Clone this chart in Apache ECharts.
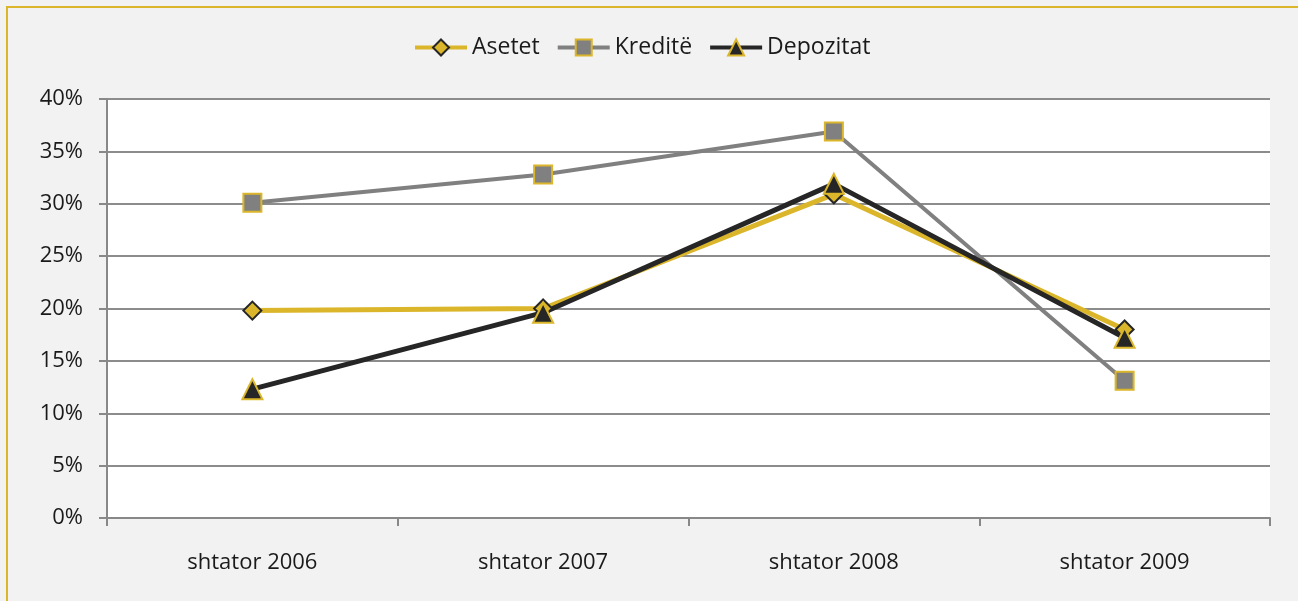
<!DOCTYPE html>
<html>
<head>
<meta http-equiv="Content-Type" content="text/html;charset=utf-8" />
<title>Asetet, Kreditë, Depozitat</title>
<script src="https://cdnjs.cloudflare.com/ajax/libs/echarts/6.0.0/echarts.min.js"></script>
<style>
  body { margin: 0; background: #f2f2f2; }
  #grafiku { position: absolute; left: 6px; top: 6px; width: 1292px; height: 595px;
    border-left: 2px solid #dbb62a; border-top: 2px solid #dbb62a; box-sizing: border-box; }
</style>
</head>
<body>
<div id="grafiku"></div>
<script>
  // te dhenat (lexuar nga grafiku)
  var kategorite = ['shtator 2006', 'shtator 2007', 'shtator 2008', 'shtator 2009'];
  var asetet = [19.8, 20.0, 30.9, 18.0];
  var kredite = [30.1, 32.8, 36.9, 13.1];
  var depozitat = [12.3, 19.6, 31.9, 17.2];

  var ari = '#dbb62a';
  var gri = '#808080';
  var zi = '#262626';
  var fonti = 'Open Sans';

  function seri(emri, vlerat, ngjyraVije, gjeresia, simboli, madhesia, mbushja, kufiri) {
    return {
      name: emri, type: 'line', data: vlerat,
      symbol: simboli, symbolSize: madhesia,
      lineStyle: { color: ngjyraVije, width: gjeresia },
      itemStyle: { color: mbushja, borderColor: kufiri, borderWidth: 2 },
      emphasis: { disabled: true }
    };
  }

  var option = {
    animation: false,
    textStyle: { fontFamily: fonti },
    legend: {
      top: 23, left: 400, itemWidth: 52, itemHeight: 20, itemGap: 16,
      lineStyle: { width: 4 },
      textStyle: { fontFamily: fonti, fontSize: 23, color: '#1a1a1a' },
      data: ['Asetet', 'Kreditë', 'Depozitat']
    },
    grid: { left: 99, right: 28, top: 91, bottom: 83, show: true, backgroundColor: '#fff', borderWidth: 0 },
    xAxis: {
      type: 'category', data: kategorite, boundaryGap: true,
      axisLine: { lineStyle: { color: '#888', width: 2 } },
      axisTick: { show: true, length: 8, lineStyle: { color: '#888', width: 2 } },
      axisLabel: { margin: 34, fontSize: 22, color: '#1a1a1a', fontFamily: fonti }
    },
    yAxis: {
      type: 'value', min: 0, max: 40, interval: 5,
      axisLine: { show: true, lineStyle: { color: '#888', width: 2 } },
      axisTick: { show: true, length: 8, lineStyle: { color: '#888', width: 2 } },
      splitLine: { lineStyle: { color: '#8c8c8c', width: 2 } },
      axisLabel: { margin: 24, fontSize: 22, color: '#1a1a1a', fontFamily: fonti, formatter: '{value}%' }
    },
    series: [
      seri('Asetet', asetet, ari, 5, 'diamond', 18, ari, zi),
      seri('Kreditë', kredite, gri, 4, 'rect', 18, gri, ari),
      seri('Depozitat', depozitat, zi, 5, 'triangle', 20, zi, ari)
    ]
  };

  var grafiku = echarts.init(document.getElementById('grafiku'));
  grafiku.setOption(option);
</script>
</body>
</html>
